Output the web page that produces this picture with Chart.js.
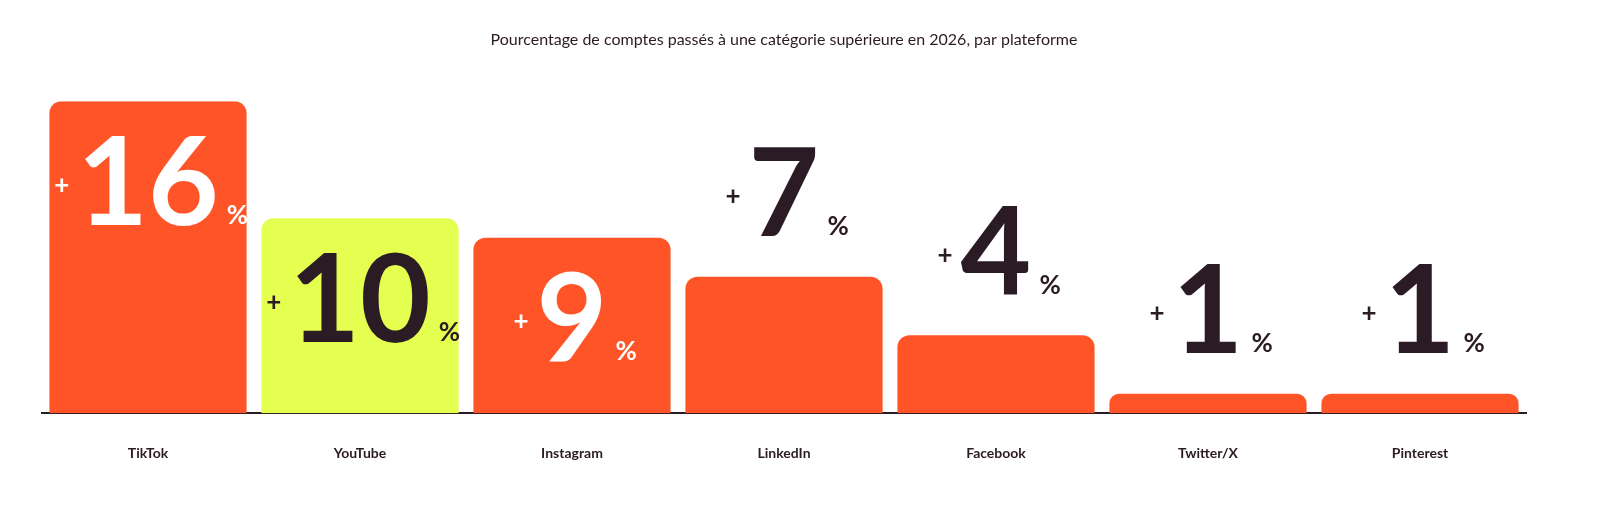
<!DOCTYPE html>
<html>
<head>
<meta charset="utf-8">
<script src="https://cdn.jsdelivr.net/npm/chart.js@4"></script>
<style>
  html, body { margin: 0; padding: 0; background: #fff; overflow: hidden; }
  canvas { display: block; }
</style>
</head>
<body>
<canvas id="c" width="1600" height="512" style="width:1600px;height:512px"></canvas>
<script>
var categories = ["TikTok", "YouTube", "Instagram", "LinkedIn", "Facebook", "Twitter/X", "Pinterest"];
var values = [16, 10, 9, 7, 4, 1, 1];
var barColors = ["#FF5427", "#E5FF50", "#FF5427", "#FF5427", "#FF5427", "#FF5427", "#FF5427"];
var DARK = "#2B1B24";
var FONT = "Lato, 'Noto Sans', sans-serif";

// draws "+NN%" labels, inside tall bars, above short ones
var bigLabels = {
  id: 'bigLabels',
  afterDatasetsDraw: function(chart) {
    var ctx = chart.ctx;
    var meta = chart.getDatasetMeta(0);
    meta.data.forEach(function(bar, i) {
      var v = values[i];
      var inside = v >= 9;
      var cy = inside ? bar.y + 84 : bar.y - 80;
      var color = inside ? (barColors[i] === "#E5FF50" ? DARK : "#fff") : DARK;
      var num = String(v);
      ctx.save();
      ctx.fillStyle = color;
      ctx.textBaseline = 'middle';
      ctx.font = "bold 122px " + FONT;
      var w = ctx.measureText(num).width;
      var x0 = bar.x - w / 2;
      ctx.textAlign = 'left';
      ctx.fillText(num, x0, cy);
      ctx.font = "bold 26px " + FONT;
      ctx.textAlign = 'right';
      ctx.fillText("+", x0 - 8, cy);
      ctx.textAlign = 'left';
      ctx.fillText("%", x0 + w + 8, cy + 30);
      ctx.restore();
    });
  }
};

new Chart(document.getElementById('c').getContext('2d'), {
  type: 'bar',
  data: {
    labels: categories,
    datasets: [{
      data: values,
      backgroundColor: barColors,
      borderRadius: { topLeft: 12, topRight: 12 },
      borderSkipped: 'bottom',
      barPercentage: 1,
      categoryPercentage: 0.93
    }]
  },
  options: {
    responsive: false,
    animation: false,
    layout: { padding: { left: 42, right: 74, top: 0, bottom: 26 } },
    plugins: {
      legend: { display: false },
      tooltip: { enabled: false },
      title: {
        display: true,
        text: "Pourcentage de comptes passés à une catégorie supérieure en 2026, par plateforme",
        color: DARK,
        font: { family: FONT, size: 16, weight: 'normal' },
        padding: { top: 30, bottom: 52 }
      }
    },
    scales: {
      x: {
        grid: { display: false },
        border: { display: true, color: DARK, width: 2 },
        ticks: { color: DARK, padding: 24, font: { family: FONT, size: 14, weight: 'bold' } }
      },
      y: {
        display: false,
        min: 0,
        max: 16
      }
    }
  },
  plugins: [bigLabels]
});
</script>
</body>
</html>
